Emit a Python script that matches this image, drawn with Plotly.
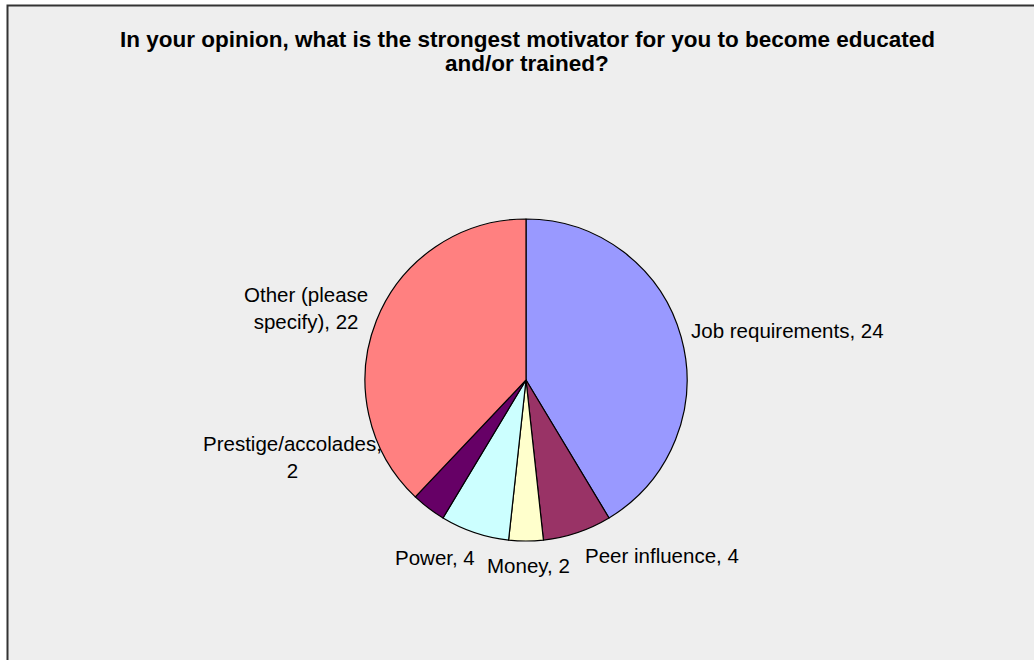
import plotly.graph_objects as go

# Survey responses
categories = ["Job requirements", "Peer influence", "Money", "Power",
              "Prestige/accolades", "Other (please specify)"]
counts = [24, 4, 2, 4, 2, 22]
colors = ["#9999FF", "#993366", "#FFFFCC", "#CCFFFF", "#660066", "#FF8080"]

# Label text lines (category wrapped as in the chart) and their pixel anchors
label_lines = [
    ("Job requirements, {v}", 689, 331, "left"),
    ("Peer influence, {v}", 662, 555, "center"),
    ("Money, {v}", 528, 565, "center"),
    ("Power, {v}", 435, 557, "center"),
    ("Prestige/accolades,<br>{v}", 292, 457, "center"),
    ("Other (please<br>specify), {v}", 306, 308, "center"),
]

# Title lines
title_lines = [
    "In your opinion, what is the strongest motivator for you to become educated",
    "and/or trained?",
]

W, H = 1034, 660
cx, cy, r = 526, 380, 161

fig = go.Figure(go.Pie(
    labels=categories,
    values=counts,
    sort=False,
    direction="clockwise",
    rotation=0,
    marker=dict(colors=colors, line=dict(color="black", width=1.2)),
    textinfo="none",
    hoverinfo="label+value",
    showlegend=False,
    domain=dict(x=[(cx - r) / W, (cx + r) / W],
                y=[(H - cy - r) / H, (H - cy + r) / H]),
))

annotations = []
for (tmpl, px, py, align), v in zip(label_lines, counts):
    annotations.append(dict(
        x=px / W, y=1 - py / H, xref="paper", yref="paper",
        text=tmpl.format(v=v), showarrow=False,
        xanchor=align, yanchor="middle", align="center",
        font=dict(family="Liberation Sans, Arial, sans-serif", size=20.5, color="black"),
    ))

# Chart title, one annotation per line
for line, py in zip(title_lines, [40, 64]):
    annotations.append(dict(
        x=527 / W, y=1 - py / H, xref="paper", yref="paper",
        text=f"<b>{line}</b>",
        showarrow=False, xanchor="center", yanchor="middle", align="center",
        font=dict(family="Liberation Sans, Arial, sans-serif", size=22.5, color="black"),
    ))

fig.update_layout(
    width=W, height=H,
    margin=dict(l=0, r=0, t=0, b=0),
    paper_bgcolor="white",
    plot_bgcolor="white",
    annotations=annotations,
    shapes=[dict(
        type="rect", xref="paper", yref="paper", layer="below",
        x0=7.5 / W, x1=1.02, y0=-0.02, y1=1 - 5.5 / H,
        fillcolor="#EEEEEE", line=dict(color="#333333", width=2),
    )],
)

fig.write_html("out.html")
